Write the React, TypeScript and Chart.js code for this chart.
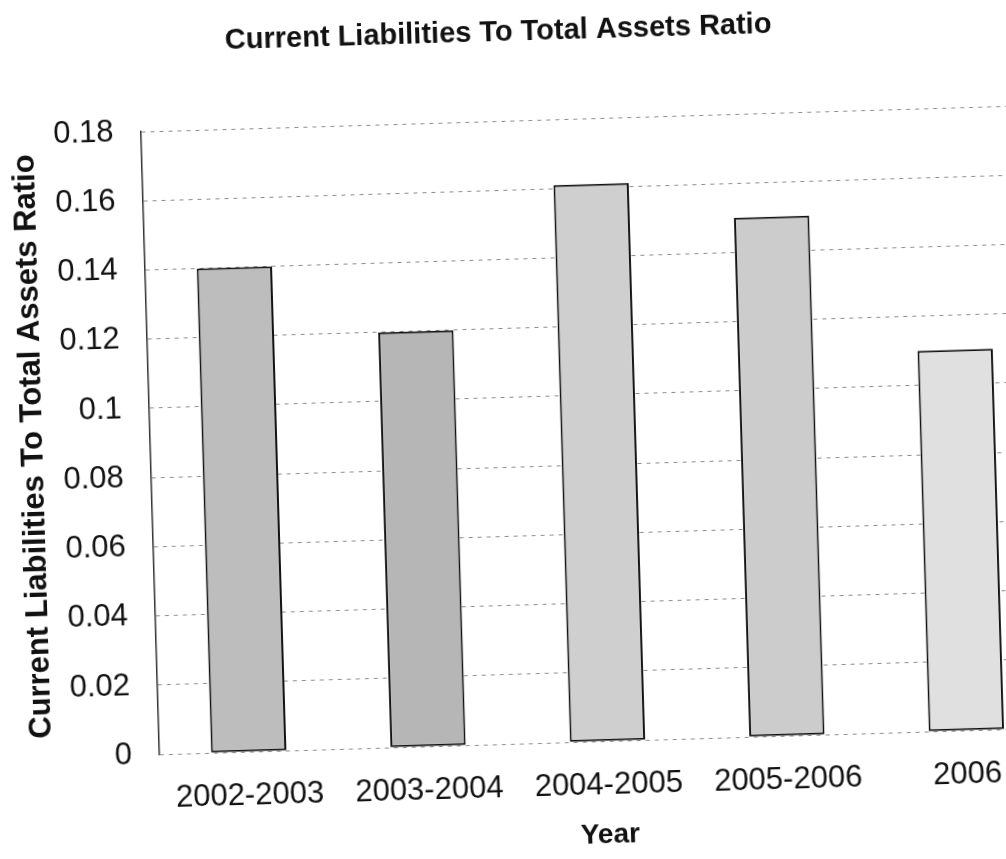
import React, { useEffect, useRef } from "react";
import { Chart, registerables } from "chart.js";

Chart.register(...registerables);

// Data
const YEARS = ["2002-2003", "2003-2004", "2004-2005", "2005-2006", "2006"];
const RATIOS = [0.14, 0.12, 0.161, 0.15, 0.11];
const Y_TICK_STEP = 0.02;
const Y_MAX = 0.18;

const CHART_TITLE = "Current Liabilities To Total Assets Ratio";
const Y_TITLE = "Current Liabilities To Total Assets Ratio";
const X_TITLE = "Year";

// Styling
const FONT = '"Liberation Sans", Arial, Helvetica, sans-serif';
const INK = "#111111";
const BAR_FILLS = ["#bdbdbd", "#b6b6b6", "#cfcfcf", "#cccccc", "#e0e0e0"];
const CANVAS_W = 1100;
const CANVAS_H = 859;
const HEADING_X = 510;
const HEADING_Y = 33;

// Draws the chart heading a little left of the plot centre.
const headingPlugin = {
  id: "heading",
  afterDraw(chart: any) {
    const ctx = chart.ctx;
    ctx.save();
    ctx.font = `bold 29px ${FONT}`;
    ctx.fillStyle = INK;
    ctx.textAlign = "center";
    ctx.textBaseline = "middle";
    ctx.fillText(CHART_TITLE, HEADING_X, HEADING_Y);
    ctx.restore();
  },
};

export default function App() {
  const canvasRef = useRef<HTMLCanvasElement | null>(null);

  useEffect(() => {
    const canvas = canvasRef.current;
    if (!canvas) return;
    const chart = new Chart(canvas, {
      type: "bar",
      data: {
        labels: YEARS,
        datasets: [
          {
            data: RATIOS,
            backgroundColor: BAR_FILLS,
            borderColor: INK,
            borderWidth: 2,
            borderSkipped: false,
            barPercentage: 0.42,
            categoryPercentage: 1,
          },
        ],
      },
      options: {
        responsive: false,
        animation: false,
        devicePixelRatio: 1,
        layout: { padding: { top: 121, right: 53, bottom: 4, left: 15 } },
        plugins: {
          legend: { display: false },
          title: { display: false },
          tooltip: { enabled: false },
        },
        scales: {
          x: {
            grid: { display: false, drawTicks: true, tickLength: 26 },
            border: { display: false },
            ticks: {
              color: INK,
              font: { family: FONT, size: 31 },
              padding: 0,
              maxRotation: 0,
              autoSkip: false,
            },
            title: {
              display: true,
              text: X_TITLE,
              color: INK,
              font: { family: FONT, size: 28, weight: "bold" },
              padding: { top: 14, bottom: 0 },
            },
          },
          y: {
            min: 0,
            max: Y_MAX,
            grid: {
              color: "rgba(0,0,0,0.45)",
              lineWidth: 1,
              drawTicks: true,
              tickLength: 27,
              tickColor: "rgba(0,0,0,0)",
            },
            border: { display: true, color: "#333333", width: 1.5, dash: [4, 5] },
            ticks: {
              stepSize: Y_TICK_STEP,
              color: INK,
              font: { family: FONT, size: 31 },
              padding: 0,
              callback: (v: any) => String(Number(Number(v).toFixed(2))),
            },
            title: {
              display: true,
              text: Y_TITLE,
              color: INK,
              font: { family: FONT, size: 31, weight: "bold" },
              padding: { top: 0, bottom: 10 },
            },
          },
        },
      },
      plugins: [headingPlugin],
    });
    return () => chart.destroy();
  }, []);

  return (
    <div
      style={{
        position: "fixed",
        left: 0,
        top: 0,
        width: "100vw",
        height: "100vh",
        overflow: "hidden",
        background: "#ffffff",
      }}
    >
      <canvas
        ref={canvasRef}
        width={CANVAS_W}
        height={CANVAS_H}
        style={{
          position: "absolute",
          left: 0,
          top: 0,
          width: CANVAS_W,
          height: CANVAS_H,
          transform: "rotate(-1.7deg)",
          transformOrigin: "503px 430px",
        }}
      />
    </div>
  );
}
